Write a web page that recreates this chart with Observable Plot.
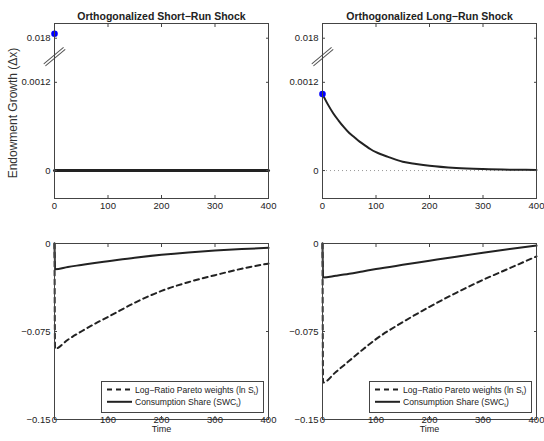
<!DOCTYPE html>
<html>
<head>
<meta charset="utf-8">
<script src="https://cdn.jsdelivr.net/npm/d3@7"></script>
<script src="https://cdn.jsdelivr.net/npm/@observablehq/plot@0.6"></script>
<style>
  body { margin: 0; background: #fff; }
  #root { position: relative; width: 544px; height: 441px; overflow: hidden;
          font-family: "Liberation Sans", Helvetica, Arial, sans-serif; }
  .panel { position: absolute; }
  .panel svg { overflow: visible; }
  .legend { position: absolute; background: #fff; border: 1px solid #444; box-sizing: border-box; }
</style>
</head>
<body>
<div id="root"></div>
<script>
// ---------------- data ----------------
const titles = ["Orthogonalized Short\u2212Run Shock", "Orthogonalized Long\u2212Run Shock"];
const yLabel = "Endowment Growth (\u0394x)";
const xLabel = "Time";
const xTicks = [0, 100, 200, 300, 400];

// top row: broken y axis (values above the break drawn at 1/10 scale)
const topYTicks = [0, 0.0012, 0.0018];
const topYTickLabels = ["0", "0.0012", "0.018"];
const breakAt = 0.00155;
const breakScale = 10;

// impact (t = 0) endowment growth, blue dots
const impactT = [0];
const srImpactDx = [0.0186];
const lrImpactDx = [0.00104];

// short-run shock: endowment growth after impact
const srDxT = [0, 400];
const srDx = [0, 0];

// long-run shock: endowment growth path
const lrDxT = [0, 10, 20, 30, 40, 50, 60, 70, 80, 90, 100, 125, 150, 175, 200, 250, 300, 350, 400];
const lrDx = [0.00104, 0.00090, 0.00078, 0.00068, 0.00059, 0.00051, 0.00045, 0.00039, 0.00034, 0.00029,
              0.00025, 0.00018, 0.00012, 0.00009, 0.000065, 0.000035, 0.00002, 0.000012, 0.000009];

// bottom row
const bottomYTicks = [-0.15, -0.075, 0];
const bottomYTickLabels = ["\u22120.15", "\u22120.075", "0"];
const irfT = [0, 1, 25, 50, 75, 100, 150, 200, 250, 300, 350, 400];
const srLnS = [0, -0.0897, -0.0820, -0.0750, -0.0685, -0.0626, -0.0505, -0.0404, -0.0330, -0.0270, -0.0215, -0.0171];
const srSWC = [0, -0.0220, -0.0200, -0.0183, -0.0166, -0.0151, -0.0121, -0.0096, -0.0076, -0.0060, -0.0047, -0.0037];
const lrLnS = [0, -0.1185, -0.1095, -0.1000, -0.0905, -0.0815, -0.0670, -0.0540, -0.0420, -0.0310, -0.0210, -0.0110];
const lrSWC = [0, -0.0290, -0.0275, -0.0258, -0.0238, -0.0218, -0.0182, -0.0147, -0.0112, -0.0078, -0.0046, -0.0018];

const legendLabels = [["Log\u2212Ratio Pareto weights (ln S", ")"], ["Consumption Share (SWC", ")"]];
const legendSub = "t";

// ---------------- helpers ----------------
const ink = "#222";
const axisInk = "#444";
const zip = (ts, vs) => ts.map((t, i) => ({t, v: vs[i]}));
const disp = v => (v > breakAt ? v / breakScale : v);

const breakShape = {
  draw(ctx, l) {
    ctx.moveTo(-1.3, 0); ctx.lineTo(-1.3, -l);
    ctx.moveTo(1.3, 0); ctx.lineTo(1.3, -l);
  }
};

function makePanel({left, top, height, marginLeft, marginRight, yDomain, yTicks, yTickLabels, marks, title, showYLabel, showXLabel, xPad}) {
  const fmt = d => yTickLabels[yTicks.indexOf(d)];
  const extra = [];
  if (title) extra.push(Plot.text([title], {frameAnchor: "top", dy: -11, fontWeight: "bold", fontSize: 10.5, fill: ink}));
  if (showYLabel) extra.push(Plot.text([yLabel], {frameAnchor: "left", textAnchor: "middle", rotate: -90, dx: -41, dy: 2, fontSize: 12, fill: "#333"}));
  if (showXLabel) extra.push(Plot.text([xLabel], {frameAnchor: "bottom", dy: 12.5, fontSize: 9, fill: ink}));
  const chart = Plot.plot({
    width: 272, height, marginLeft, marginRight, marginTop: 23, marginBottom: height - 23 - (height === 220 ? 175 : 176),
    style: {fontFamily: "Liberation Sans, Helvetica, Arial, sans-serif", fontSize: "9.5px", color: ink, background: "transparent"},
    x: {domain: [0, 400]},
    y: {domain: yDomain},
    marks: [
      ...marks,
      Plot.frame({stroke: axisInk, strokeWidth: 1}),
      Plot.axisX({ticks: xTicks, tickSize: 0, tickPadding: xPad, tickFormat: d => String(d), label: null, fill: ink}),
      Plot.axisX({anchor: "bottom", ticks: xTicks, tickSize: 3, dy: -3, tickFormat: () => "", label: null, stroke: axisInk}),
      Plot.axisX({anchor: "top", ticks: xTicks, tickSize: 3, dy: 3, tickFormat: () => "", label: null, stroke: axisInk}),
      Plot.axisY({ticks: yTicks, tickSize: 0, tickPadding: 4, tickFormat: fmt, label: null, fill: ink}),
      Plot.axisY({anchor: "left", ticks: yTicks, tickSize: 3, dx: 3, tickFormat: () => "", label: null, stroke: axisInk}),
      Plot.axisY({anchor: "right", ticks: yTicks, tickSize: 3, dx: -3, tickFormat: () => "", label: null, stroke: axisInk}),
      ...extra
    ]
  });
  const div = document.createElement("div");
  div.className = "panel";
  div.style.left = left + "px";
  div.style.top = top + "px";
  div.appendChild(chart);
  document.getElementById("root").appendChild(div);
}

function topMarks(impact, pathT, path, lineWidth, showZero) {
  const m = [];
  if (showZero) m.push(Plot.ruleY([0], {stroke: "#999", strokeDasharray: "1,3", strokeWidth: 1}));
  m.push(Plot.line(zip(pathT, path), {x: "t", y: d => disp(d.v), stroke: ink, strokeWidth: lineWidth, curve: "monotone-x"}));
  m.push(Plot.vector([breakAt], {y: d => d, frameAnchor: "left", length: 25, rotate: 50, anchor: "middle", shape: breakShape, stroke: "#555", strokeWidth: 1}));
  m.push(Plot.dot(zip(impactT, impact), {x: "t", y: d => disp(d.v), r: 3.3, fill: "#0000ff", stroke: "none"}));
  return m;
}

function bottomMarks(lnS, swc) {
  return [
    Plot.line(zip(irfT, lnS), {x: "t", y: "v", stroke: ink, strokeWidth: 2, strokeDasharray: "5,4", curve: "monotone-x"}),
    Plot.line(zip(irfT, swc), {x: "t", y: "v", stroke: ink, strokeWidth: 2, curve: "monotone-x"})
  ];
}

const topDomain = [-0.00038, 0.002];
makePanel({left: 0, top: 0, height: 220, marginLeft: 54, marginRight: 4, yDomain: topDomain,
  yTicks: topYTicks, yTickLabels: topYTickLabels, marks: topMarks(srImpactDx, srDxT, srDx, 3, true),
  title: titles[0], showYLabel: true, xPad: 4});
makePanel({left: 272, top: 0, height: 220, marginLeft: 50, marginRight: 8, yDomain: topDomain,
  yTicks: topYTicks, yTickLabels: topYTickLabels, marks: topMarks(lrImpactDx, lrDxT, lrDx, 2, true),
  title: titles[1], xPad: 4});
makePanel({left: 0, top: 220, height: 221, marginLeft: 54, marginRight: 4, yDomain: [-0.15, 0],
  yTicks: bottomYTicks, yTickLabels: bottomYTickLabels, marks: bottomMarks(srLnS, srSWC),
  showXLabel: true, xPad: -3.5});
makePanel({left: 272, top: 220, height: 221, marginLeft: 50, marginRight: 8, yDomain: [-0.15, 0],
  yTicks: bottomYTicks, yTickLabels: bottomYTickLabels, marks: bottomMarks(lrLnS, lrSWC),
  showXLabel: true, xPad: -3.5});

// legends
function makeLegend(left) {
  const div = document.createElement("div");
  div.className = "legend";
  div.style.left = left + "px";
  div.style.top = "381px";
  div.style.width = "163px";
  div.style.height = "32px";
  const ns = "http://www.w3.org/2000/svg";
  const svg = document.createElementNS(ns, "svg");
  svg.setAttribute("width", 161);
  svg.setAttribute("height", 30);
  svg.style.display = "block";
  legendLabels.forEach((lab, i) => {
    const y = i === 0 ? 7.5 : 19.8;
    const line = document.createElementNS(ns, "line");
    line.setAttribute("x1", 5); line.setAttribute("x2", 30);
    line.setAttribute("y1", y); line.setAttribute("y2", y);
    line.setAttribute("stroke", ink); line.setAttribute("stroke-width", 2);
    if (i === 0) line.setAttribute("stroke-dasharray", "5,4");
    svg.appendChild(line);
    const text = document.createElementNS(ns, "text");
    text.setAttribute("x", 33); text.setAttribute("y", y);
    text.setAttribute("dy", "0.35em");
    text.setAttribute("font-size", "8.6");
    text.setAttribute("fill", ink);
    text.setAttribute("font-family", "Liberation Sans, Helvetica, Arial, sans-serif");
    const t1 = document.createElementNS(ns, "tspan"); t1.textContent = lab[0];
    const t2 = document.createElementNS(ns, "tspan"); t2.textContent = legendSub;
    t2.setAttribute("font-size", "6"); t2.setAttribute("dy", "2");
    const t3 = document.createElementNS(ns, "tspan"); t3.textContent = lab[1];
    t3.setAttribute("dy", "-2");
    text.appendChild(t1); text.appendChild(t2); text.appendChild(t3);
    svg.appendChild(text);
  });
  div.appendChild(svg);
  document.getElementById("root").appendChild(div);
}
makeLegend(101);
makeLegend(369);
</script>
</body>
</html>
